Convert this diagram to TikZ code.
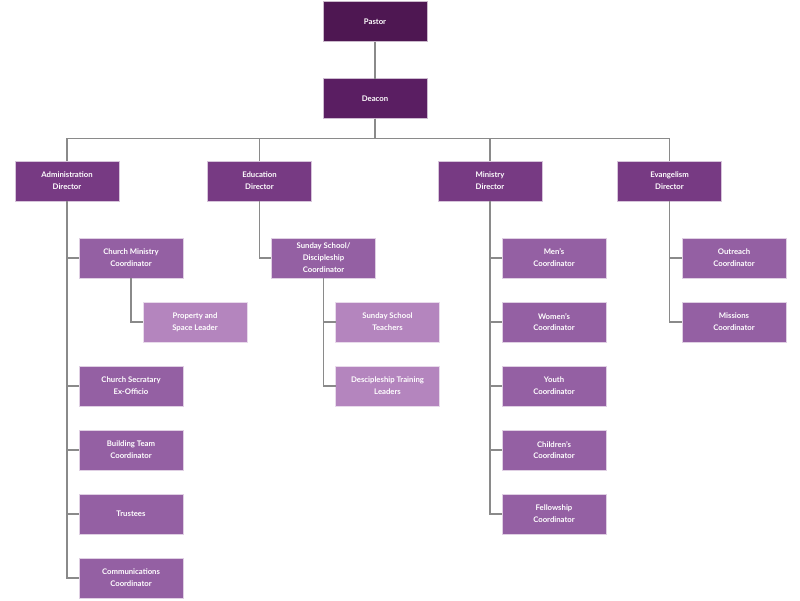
\documentclass[tikz,border=0pt]{standalone}
\usepackage{fontspec}
\setsansfont{Lato}
\usetikzlibrary{positioning}

\definecolor{pastorc}{HTML}{4E1752}
\definecolor{deaconc}{HTML}{5A1E62}
\definecolor{dirc}{HTML}{773A83}
\definecolor{coordc}{HTML}{9460A3}
\definecolor{leadc}{HTML}{B485BE}
\definecolor{linec}{HTML}{8A8A8A}

\begin{document}
\begin{tikzpicture}[
    x=0.025cm, y=-0.025cm,
    node distance=6mm and 6mm,
    unit/.style={rectangle, draw=white!70!#1, fill=#1, text=white, minimum width=26mm, minimum height=10mm, inner sep=1pt, outer sep=0pt, align=center, font=\sffamily\bfseries\fontsize{5.5}{8.5}\selectfont},
    top/.style={unit=pastorc},
    director/.style={unit=dirc},
    coordinator/.style={unit=coordc},
    leader/.style={unit=leadc},
    link/.style={draw=linec, line width=1.2pt}
  ]
    \useasboundingbox (0,0) rectangle (800,600);
    % top of the chart
    \node[top] (pastor) at (375,21.5) {Pastor};
    \node[unit=deaconc] (deacon) at (375,98.5) {Deacon};
    % directors
    \node[director] (admin) at (67,181) {Administration\\Director};
    \node[director] (edu) at (259.5,181) {Education\\Director};
    \node[director] (min) at (490,181) {Ministry\\Director};
    \node[director] (evan) at (669.5,181) {Evangelism\\Director};
    % administration
    \node[coordinator] (churchmin) at (131,258) {Church Ministry\\Coordinator};
    \node[leader, below=of churchmin, xshift=16mm] (property) {Property and\\Space Leader};
    \node[coordinator, below=of property, xshift=-16mm] (secretary) {Church Secratary\\Ex-Officio};
    \node[coordinator, below=of secretary] (building) {Building Team\\Coordinator};
    \node[coordinator, below=of building] (trustees) {Trustees};
    \node[coordinator, below=of trustees] (comms) {Communications\\Coordinator};
    % education
    \node[coordinator] (sunday) at (323.5,258) {Sunday School/\\Discipleship\\Coordinator};
    \node[leader, below=of sunday, xshift=16mm] (teachers) {Sunday School\\Teachers};
    \node[leader, below=of teachers] (training) {Descipleship Training\\Leaders};
    % ministry
    \node[coordinator] (men) at (554,258) {Men's\\Coordinator};
    \node[coordinator, below=of men] (women) {Women's\\Coordinator};
    \node[coordinator, below=of women] (youth) {Youth\\Coordinator};
    \node[coordinator, below=of youth] (children) {Children's\\Coordinator};
    \node[coordinator, below=of children] (fellowship) {Fellowship\\Coordinator};
    % evangelism
    \node[coordinator] (outreach) at (734,258) {Outreach\\Coordinator};
    \node[coordinator, below=of outreach] (missions) {Missions\\Coordinator};

    \draw[link] (pastor) -- (deacon);
    \foreach \d in {admin,edu,min,evan}
      \draw[link] (deacon.south) -- ++(0,20) -| (\d.north);
    \foreach \c in {churchmin,secretary,building,trustees,comms}
      \draw[link] (admin.south) |- (\c.west);
    \draw[link] (churchmin.south) |- (property.west);
    \draw[link] (edu.south) |- (sunday.west);
    \foreach \c in {teachers,training}
      \draw[link] (sunday.south) |- (\c.west);
    \foreach \c in {men,women,youth,children,fellowship}
      \draw[link] (min.south) |- (\c.west);
    \foreach \c in {outreach,missions}
      \draw[link] (evan.south) |- (\c.west);
\end{tikzpicture}
\end{document}
